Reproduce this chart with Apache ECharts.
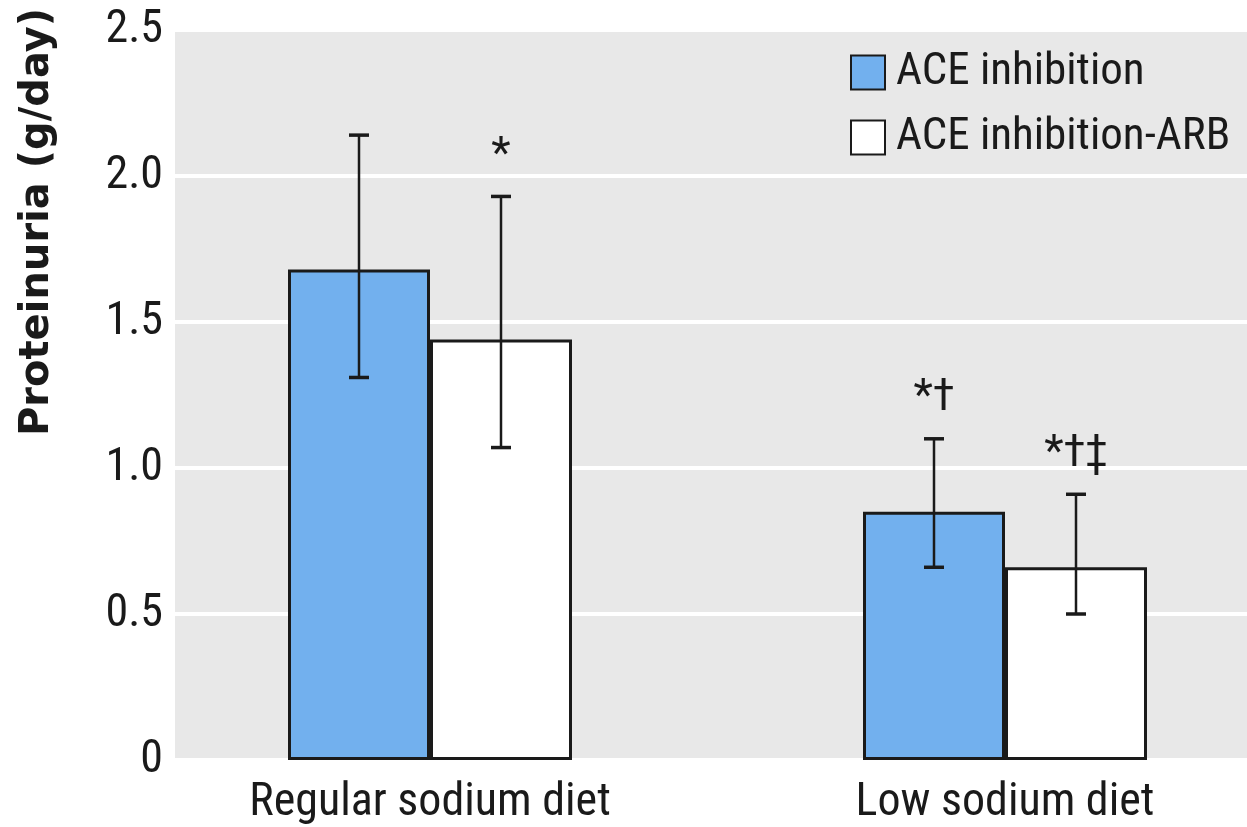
<!DOCTYPE html>
<html>
<head>
<meta charset="utf-8">
<script src="https://cdn.jsdelivr.net/npm/echarts@6/dist/echarts.min.js"></script>
<style>
  html, body { margin: 0; padding: 0; background: #ffffff; }
  #chart { width: 1247px; height: 827px; }
</style>
</head>
<body>
<div id="chart"></div>
<script>
// Proteinuria by diet and treatment arm (mean with error bars)
const categories = ['Regular sodium diet', 'Low sodium diet'];
const seriesNames = ['ACE inhibition', 'ACE inhibition-ARB'];

const aceValues = [1.68, 0.85];
const aceLow    = [1.31, 0.66];
const aceHigh   = [2.14, 1.10];

const arbValues = [1.44, 0.66];
const arbLow    = [1.07, 0.50];
const arbHigh   = [1.93, 0.91];

const aceMarks = ['', '*\u2020'];
const arbMarks = ['*', '*\u2020\u2021'];

const yTicks = [0, 0.5, 1.0, 1.5, 2.0, 2.5];

const FONT = '"Roboto Condensed", "Liberation Sans", sans-serif';
const TEXT = '#1a1a1a';
const BLUE = '#72b0ee';
const BAR_W = 142;

const chart = echarts.init(document.getElementById('chart'), null, { renderer: 'canvas' });

function errorSeries(name, low, high, marks, shift) {
  return {
    type: 'custom',
    name: name + ' error',
    xAxisIndex: 1,
    yAxisIndex: 1,
    z: 5,
    silent: true,
    data: categories.map((c, i) => [i, low[i], high[i]]),
    renderItem: function (params, api) {
      const i = api.value(0);
      const pLo = api.coord([i, api.value(1)]);
      const pHi = api.coord([i, api.value(2)]);
      const cx = pLo[0] + shift;
      const cap = 10;
      const children = [
        { type: 'line', shape: { x1: cx, y1: pHi[1], x2: cx, y2: pLo[1] }, style: { stroke: TEXT, lineWidth: 2.5 } },
        { type: 'line', shape: { x1: cx - cap, y1: pHi[1], x2: cx + cap, y2: pHi[1] }, style: { stroke: TEXT, lineWidth: 3.5 } },
        { type: 'line', shape: { x1: cx - cap, y1: pLo[1], x2: cx + cap, y2: pLo[1] }, style: { stroke: TEXT, lineWidth: 3.5 } }
      ];
      const mark = marks[params.dataIndex];
      if (mark) {
        children.push({
          type: 'text',
          x: cx,
          y: pHi[1] - 40,
          style: {
            text: mark,
            font: '45px ' + FONT,
            fill: TEXT,
            align: 'center',
            verticalAlign: 'middle'
          }
        });
      }
      return { type: 'group', children: children };
    }
  };
}

const option = {
  animation: false,
  backgroundColor: '#ffffff',
  grid: [
    { left: 175, right: 0, top: 30, bottom: 67, show: true, backgroundColor: '#e8e8e8', borderWidth: 0 },
    { left: 430, right: 242, top: 30, bottom: 67 }
  ],
  xAxis: [
    { gridIndex: 0, type: 'value', min: 0, max: 1, show: false },
    {
      gridIndex: 1,
      type: 'category',
      data: categories,
      boundaryGap: false,
      axisLine: { show: false },
      axisTick: { show: false },
      axisLabel: { color: TEXT, fontFamily: FONT, fontSize: 46, margin: 20 }
    }
  ],
  yAxis: [
    {
      gridIndex: 0,
      type: 'value',
      min: yTicks[0],
      max: yTicks[yTicks.length - 1],
      interval: 0.5,
      axisLine: { show: false },
      axisTick: { show: false },
      axisLabel: {
        color: TEXT, fontFamily: FONT, fontSize: 46, margin: 12,
        formatter: v => (v === 0 ? '0' : v.toFixed(1))
      },
      splitLine: { show: true, lineStyle: { color: '#ffffff', width: 4 } }
    },
    {
      gridIndex: 1,
      type: 'value',
      min: yTicks[0],
      max: yTicks[yTicks.length - 1],
      interval: 0.5,
      show: false,
      splitLine: { show: false }
    }
  ],
  legend: {
    data: seriesNames,
    orient: 'vertical',
    left: 845,
    top: 45,
    itemWidth: 34,
    itemHeight: 34,
    itemGap: 20,
    icon: 'rect',
    textStyle: { color: TEXT, fontFamily: FONT, fontSize: 45, lineHeight: 34, padding: [0, 0, 0, 6] }
  },
  series: [
    {
      name: seriesNames[0],
      type: 'bar',
      xAxisIndex: 1,
      yAxisIndex: 1,
      data: aceValues,
      barWidth: BAR_W,
      barGap: '0%',
      clip: false,
      itemStyle: { color: BLUE, borderColor: TEXT, borderWidth: 3 }
    },
    {
      name: seriesNames[1],
      type: 'bar',
      xAxisIndex: 1,
      yAxisIndex: 1,
      data: arbValues,
      barWidth: BAR_W,
      barGap: '0%',
      clip: false,
      itemStyle: { color: '#ffffff', borderColor: TEXT, borderWidth: 3 }
    },
    errorSeries(seriesNames[0], aceLow, aceHigh, aceMarks, -BAR_W / 2),
    errorSeries(seriesNames[1], arbLow, arbHigh, arbMarks, BAR_W / 2)
  ],
  graphic: [
    {
      type: 'text',
      x: 38,
      y: 222,
      rotation: Math.PI / 2,
      style: {
        text: 'Proteinuria (g/day)',
        font: 'bold 40px "DejaVu Sans", sans-serif',
        fill: TEXT,
        align: 'center',
        verticalAlign: 'middle'
      }
    }
  ]
};

chart.setOption(option);
</script>
</body>
</html>
